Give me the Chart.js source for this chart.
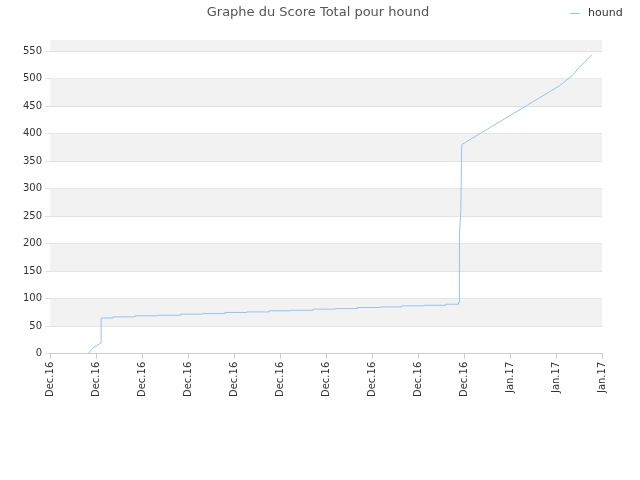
<!DOCTYPE html>
<html><head><meta charset="utf-8">
<script src="https://cdn.jsdelivr.net/npm/chart.js"></script>
<style>body{margin:0;background:#fff}#w{position:relative;width:640px;height:480px}
#t{position:absolute;top:4px;left:0;width:636px;text-align:center;font:13px 'DejaVu Sans';color:#555}
#l{position:absolute;top:6px;left:570px;font:11px 'DejaVu Sans';color:#333}
#l span{display:inline-block;width:10px;height:1px;background:#90c4f5;vertical-align:middle;margin-right:8px}</style>
</head><body><div id="w"><canvas id="c"></canvas><div id="t">Graphe du Score Total pour hound</div><div id="l"><span></span>hound</div></div>
<script>
const tickLabels=["Dec.16","Dec.16","Dec.16","Dec.16","Dec.16","Dec.16","Dec.16","Dec.16","Dec.16","Dec.16","Jan.17","Jan.17","Jan.17"];
const xs=[0.83,0.92,1.11,1.11,1.37,1.37,1.85,1.85,2.33,2.33,2.84,2.84,3.32,3.32,3.80,3.80,4.28,4.28,4.76,4.76,5.24,5.24,5.72,5.72,6.20,6.20,6.68,6.68,7.16,7.16,7.64,7.64,8.12,8.12,8.60,8.60,8.88,8.88,8.90,8.90,8.93,8.95,11.08,11.35,11.50,11.78];
const ys=[0,10,20,65,65,67,67,69,69,70,70,72,72,73,73,75,75,76,76,78,78,79,79,81,81,82,82,84,84,85,85,87,87,88,88,90,90,93,93,215,260,380,487,505,520,543];
const pts=xs.map((x,i)=>({x:x,y:ys[i]}));
const bands={id:'bands',beforeDatasetsDraw(ch){const {ctx,chartArea:a,scales:{y}}=ch;ctx.save();ctx.fillStyle='#f2f2f2';
for(let v=50;v<570;v+=100){const t=y.getPixelForValue(Math.min(v+50,570)),b=y.getPixelForValue(v);ctx.fillRect(a.left,t,a.right-a.left,b-t);}
ctx.restore();}};
new Chart(document.getElementById('c'),{type:'line',
data:{datasets:[{label:'hound',data:pts,borderColor:'#90c4f5',backgroundColor:'#90c4f5',borderWidth:1,pointRadius:0,tension:0}]},
options:{responsive:true,maintainAspectRatio:false,animation:false,
layout:{padding:{left:20,right:38,top:40,bottom:80}},
plugins:{legend:{display:false},tooltip:{enabled:false}},
scales:{x:{type:'linear',min:0,max:12,grid:{display:true,drawOnChartArea:false,color:'#ccc',tickLength:5},border:{color:'#ccc'},
ticks:{stepSize:1,autoSkip:false,maxRotation:90,minRotation:90,color:'#333',font:{family:'DejaVu Sans',size:10},callback:(v)=>tickLabels[v]}},
y:{min:0,max:570,grid:{color:'#e0e0e0',tickLength:5},border:{display:false},afterBuildTicks(s){s.ticks=[];for(let v=0;v<=550;v+=50)s.ticks.push({value:v});},
ticks:{color:'#333',font:{family:'DejaVu Sans',size:10}}}}},
plugins:[bands]});
</script></body></html>
